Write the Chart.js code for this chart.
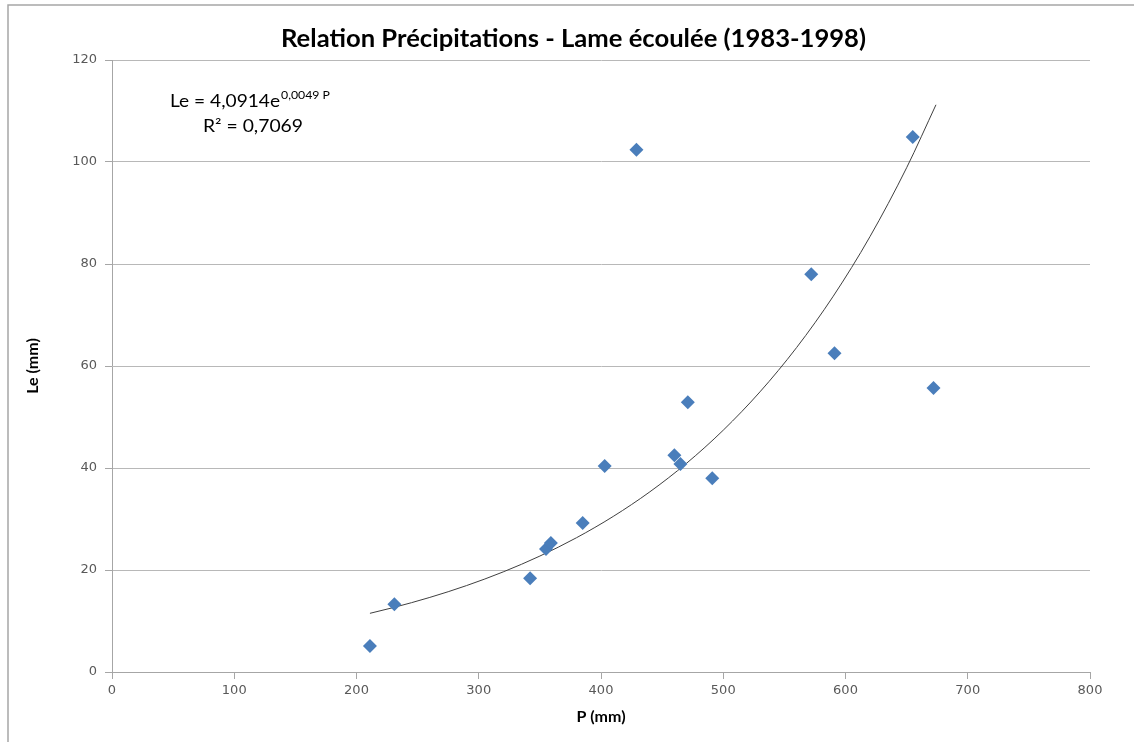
<!DOCTYPE html>
<html>
<head>
<meta charset="utf-8">
<script src="https://cdn.jsdelivr.net/npm/chart.js@4.4.1/dist/chart.umd.min.js"></script>
<style>
  html, body { margin: 0; padding: 0; background: #ffffff; }
  #wrap { position: absolute; left: 0; top: 0; width: 1134px; height: 742px; }
</style>
</head>
<body>
<div id="wrap"><canvas id="c" width="1134" height="742"></canvas></div>
<script>
// ---- Data ----
const chartTitle = "Relation Précipitations - Lame écoulée (1983-1998)";
const xAxisTitle = "P (mm)";
const yAxisTitle = "Le (mm)";
const precipitation = [211, 231, 342, 355, 359, 385, 403, 429, 460, 465, 471, 491, 572, 591, 655, 672];
const lameEcoulee   = [5.1, 13.3, 18.4, 24.1, 25.3, 29.2, 40.4, 102.4, 42.5, 40.8, 52.9, 38.0, 78.0, 62.5, 104.9, 55.7];
const xTicks = [0, 100, 200, 300, 400, 500, 600, 700, 800];
const yTicks = [0, 20, 40, 60, 80, 100, 120];
// Exponential trendline shown on the chart: Le = 4,0914 e^(0,0049 P)
const trendA = 4.0914;
const trendB = 0.0049;
const trendR2 = "0,7069";
const trendP = [211, 230, 260, 290, 320, 350, 380, 410, 440, 470, 500, 530, 560, 590, 620, 650, 674];
const trendLe = trendP.map(p => trendA * Math.exp(trendB * p));

const scatterPts = precipitation.map((p, i) => ({ x: p, y: lameEcoulee[i] }));
const trendPts = trendP.map((p, i) => ({ x: p, y: trendLe[i] }));

const textFont = 'Lato, "Open Sans", "Liberation Sans", sans-serif';
const tickFont = '"DejaVu Sans", Verdana, sans-serif';

// draw text squeezed/stretched horizontally to a given width
function fitText(ctx, text, x, y, width) {
  const m = ctx.measureText(text).width;
  const sx = width / m;
  ctx.save();
  ctx.translate(x, y);
  ctx.scale(sx, 1);
  ctx.fillText(text, 0, 0);
  ctx.restore();
}

const decorPlugin = {
  id: 'decor',
  beforeDraw(chart) {
    const ctx = chart.ctx;
    ctx.save();
    ctx.fillStyle = '#ffffff';
    ctx.fillRect(0, 0, chart.width, chart.height);
    ctx.strokeStyle = '#a6a6a6';
    ctx.lineWidth = 1.5;
    ctx.beginPath();
    ctx.moveTo(8, chart.height + 2);
    ctx.lineTo(8, 5);
    ctx.lineTo(chart.width + 2, 5);
    ctx.stroke();
    ctx.restore();
  },
  afterDraw(chart) {
    const ctx = chart.ctx;
    ctx.save();
    ctx.fillStyle = '#000000';
    ctx.textBaseline = 'alphabetic';
    ctx.textAlign = 'left';
    // Title
    ctx.font = 'bold 25px ' + textFont;
    fitText(ctx, chartTitle, 281, 47, 585);
    // Equation
    ctx.font = '17px ' + textFont;
    fitText(ctx, 'Le = 4,0914e', 170, 107, 110);
    ctx.font = '11px ' + textFont;
    fitText(ctx, '0,0049 P', 281, 99, 49);
    ctx.font = '17px ' + textFont;
    fitText(ctx, 'R² = ' + trendR2, 203, 132, 100);
    ctx.restore();
  }
};

new Chart(document.getElementById('c'), {
  type: 'scatter',
  data: {
    datasets: [
      {
        label: 'Le',
        data: scatterPts,
        pointStyle: 'rectRot',
        pointRadius: 7,
        pointHoverRadius: 7,
        backgroundColor: '#4a7ebb',
        borderColor: '#4a7ebb',
        borderWidth: 0,
        order: 1
      },
      {
        label: 'Tendance',
        type: 'line',
        data: trendPts,
        borderColor: '#404040',
        borderWidth: 1,
        pointRadius: 0,
        fill: false,
        tension: 0.4,
        cubicInterpolationMode: 'monotone',
        order: 2
      }
    ]
  },
  plugins: [decorPlugin],
  options: {
    responsive: false,
    animation: false,
    devicePixelRatio: 1,
    layout: { padding: { left: 10, top: 60, right: 44, bottom: 10 } },
    plugins: {
      legend: { display: false },
      title: { display: false },
      tooltip: { enabled: false }
    },
    scales: {
      x: {
        type: 'linear',
        min: 0,
        max: 800,
        afterBuildTicks(scale) { scale.ticks = xTicks.map(v => ({ value: v })); },
        afterFit(scale) { scale.height = 60; },
        ticks: {
          color: '#595959',
          font: { family: tickFont, size: 13 },
          padding: 4,
          maxRotation: 0
        },
        grid: {
          drawOnChartArea: false,
          drawTicks: true,
          tickLength: 7,
          tickColor: '#a6a6a6',
          color: '#a6a6a6'
        },
        border: { display: true, color: '#a6a6a6', width: 1 },
        title: {
          display: true,
          text: xAxisTitle,
          color: '#000000',
          font: { family: textFont, size: 16, weight: 'bold' },
          padding: { top: 0, bottom: 6 }
        }
      },
      y: {
        type: 'linear',
        min: 0,
        max: 120,
        afterBuildTicks(scale) { scale.ticks = yTicks.map(v => ({ value: v })); },
        afterFit(scale) { scale.width = 102; },
        ticks: {
          color: '#595959',
          font: { family: tickFont, size: 13 },
          padding: 8
        },
        grid: {
          drawOnChartArea: true,
          drawTicks: true,
          tickLength: 7,
          color: '#b8b8b8',
          tickColor: '#a6a6a6',
          lineWidth: 1
        },
        border: { display: true, color: '#a6a6a6', width: 1 },
        title: {
          display: true,
          text: yAxisTitle,
          color: '#000000',
          font: { family: textFont, size: 16, weight: 'bold' },
          padding: { top: 13, bottom: 0 }
        }
      }
    }
  }
});
</script>
</body>
</html>
